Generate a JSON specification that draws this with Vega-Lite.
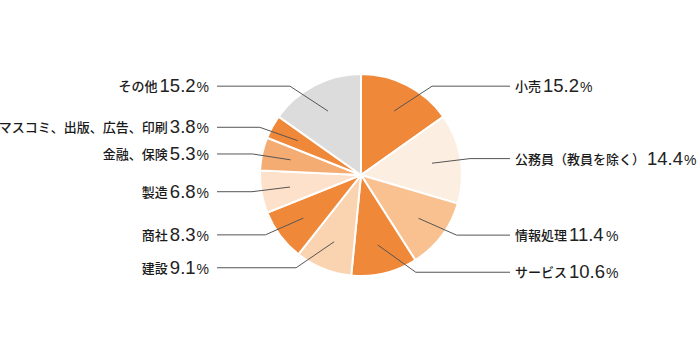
{
  "$schema": "https://vega.github.io/schema/vega-lite/v6.json",
  "autosize": "none",
  "width": 678,
  "height": 350,
  "padding": {"left": 22, "top": 0, "right": 0, "bottom": 5},
  "background": "white",
  "config": {"view": {"stroke": null}},
  "data": {
    "values": [
      {"name": "小売", "pct": 15.2, "rank": 1},
      {"name": "公務員（教員を除く）", "pct": 14.4, "rank": 2},
      {"name": "情報処理", "pct": 11.4, "rank": 3},
      {"name": "サービス", "pct": 10.6, "rank": 4},
      {"name": "建設", "pct": 9.1, "rank": 5},
      {"name": "商社", "pct": 8.3, "rank": 6},
      {"name": "製造", "pct": 6.8, "rank": 7},
      {"name": "金融、保険", "pct": 5.3, "rank": 8},
      {"name": "マスコミ、出版、広告、印刷", "pct": 3.8, "rank": 9},
      {"name": "その他", "pct": 15.2, "rank": 10}
    ]
  },
  "transform": [
    {"joinaggregate": [{"op": "sum", "field": "pct", "as": "total"}]},
    {"window": [{"op": "sum", "field": "pct", "as": "cum"}], "sort": [{"field": "rank"}], "frame": [null, 0]},
    {"calculate": "(datum.cum - datum.pct/2)/datum.total*2*PI", "as": "mid"},
    {"calculate": "datum.mid < PI", "as": "right"},
    {"calculate": "0.72*sin(datum.mid)", "as": "ax"},
    {"calculate": "0.72*cos(datum.mid)", "as": "ay"},
    {"calculate": "cos(datum.mid)", "as": "ly"},
    {"calculate": "datum.right ? datum.ax + 0.38 : datum.ax - 0.38", "as": "ex"},
    {"calculate": "datum.right ? 1.49 : -1.44", "as": "lx"},
    {"calculate": "format(datum.pct, '.1f')", "as": "num"},
    {"calculate": "length(datum.name)*13", "as": "nameW"},
    {"calculate": "(length(datum.num)-1)*0.556*18.5 + 0.278*18.5", "as": "numW"},
    {"calculate": "datum.nameW + 2 + datum.numW + 1 + 0.889*14", "as": "totW"},
    {"calculate": "datum.right ? 1.54 : -1.52 - datum.totW/100", "as": "nameX"},
    {"calculate": "datum.nameX + (datum.nameW + 2)/100", "as": "numX"},
    {"calculate": "datum.numX + (datum.numW + 1)/100", "as": "pctX"}
  ],
  "layer": [
    {
      "mark": {"type": "arc", "outerRadius": 101, "stroke": "white", "strokeWidth": 2},
      "encoding": {
        "theta": {"field": "pct", "type": "quantitative", "stack": true},
        "order": {"field": "rank", "type": "quantitative"},
        "color": {
          "field": "name",
          "type": "nominal",
          "legend": null,
          "scale": {
            "domain": ["小売", "公務員（教員を除く）", "情報処理", "サービス", "建設", "商社", "製造", "金融、保険", "マスコミ、出版、広告、印刷", "その他"],
            "range": ["#f0883a", "#fdeee2", "#f9c18f", "#f0883a", "#fad3b0", "#f0883a", "#fde1cb", "#f5ac72", "#f0883a", "#dcdcdc"]
          }
        }
      }
    },
    {
      "mark": {"type": "rule", "color": "#555555", "strokeWidth": 1},
      "encoding": {
        "x": {"field": "ax", "type": "quantitative", "scale": {"domain": [-3.39, 3.39], "nice": false, "zero": false}, "axis": null},
        "y": {"field": "ay", "type": "quantitative", "scale": {"domain": [-1.75, 1.75], "nice": false, "zero": false}, "axis": null},
        "x2": {"field": "ex"},
        "y2": {"field": "ly"}
      }
    },
    {
      "mark": {"type": "rule", "color": "#555555", "strokeWidth": 1},
      "encoding": {
        "x": {"field": "ex", "type": "quantitative", "scale": {"domain": [-3.39, 3.39], "nice": false, "zero": false}, "axis": null},
        "x2": {"field": "lx"},
        "y": {"field": "ly", "type": "quantitative", "scale": {"domain": [-1.75, 1.75], "nice": false, "zero": false}, "axis": null}
      }
    },
    {
      "mark": {"type": "text", "align": "left", "baseline": "alphabetic", "dy": 5, "font": "Noto Sans CJK JP", "fontSize": 13, "fontWeight": 500, "color": "#1a1a1a"},
      "encoding": {
        "x": {"field": "nameX", "type": "quantitative", "scale": {"domain": [-3.39, 3.39], "nice": false, "zero": false}, "axis": null},
        "y": {"field": "ly", "type": "quantitative", "scale": {"domain": [-1.75, 1.75], "nice": false, "zero": false}, "axis": null},
        "text": {"field": "name"}
      }
    },
    {
      "mark": {"type": "text", "align": "left", "baseline": "alphabetic", "dy": 6, "font": "Liberation Sans", "fontSize": 18.5, "color": "#222222"},
      "encoding": {
        "x": {"field": "numX", "type": "quantitative", "scale": {"domain": [-3.39, 3.39], "nice": false, "zero": false}, "axis": null},
        "y": {"field": "ly", "type": "quantitative", "scale": {"domain": [-1.75, 1.75], "nice": false, "zero": false}, "axis": null},
        "text": {"field": "num"}
      }
    },
    {
      "mark": {"type": "text", "align": "left", "baseline": "alphabetic", "dy": 6, "font": "Liberation Sans", "fontSize": 14, "color": "#222222"},
      "encoding": {
        "x": {"field": "pctX", "type": "quantitative", "scale": {"domain": [-3.39, 3.39], "nice": false, "zero": false}, "axis": null},
        "y": {"field": "ly", "type": "quantitative", "scale": {"domain": [-1.75, 1.75], "nice": false, "zero": false}, "axis": null},
        "text": {"value": "%"}
      }
    }
  ]
}
